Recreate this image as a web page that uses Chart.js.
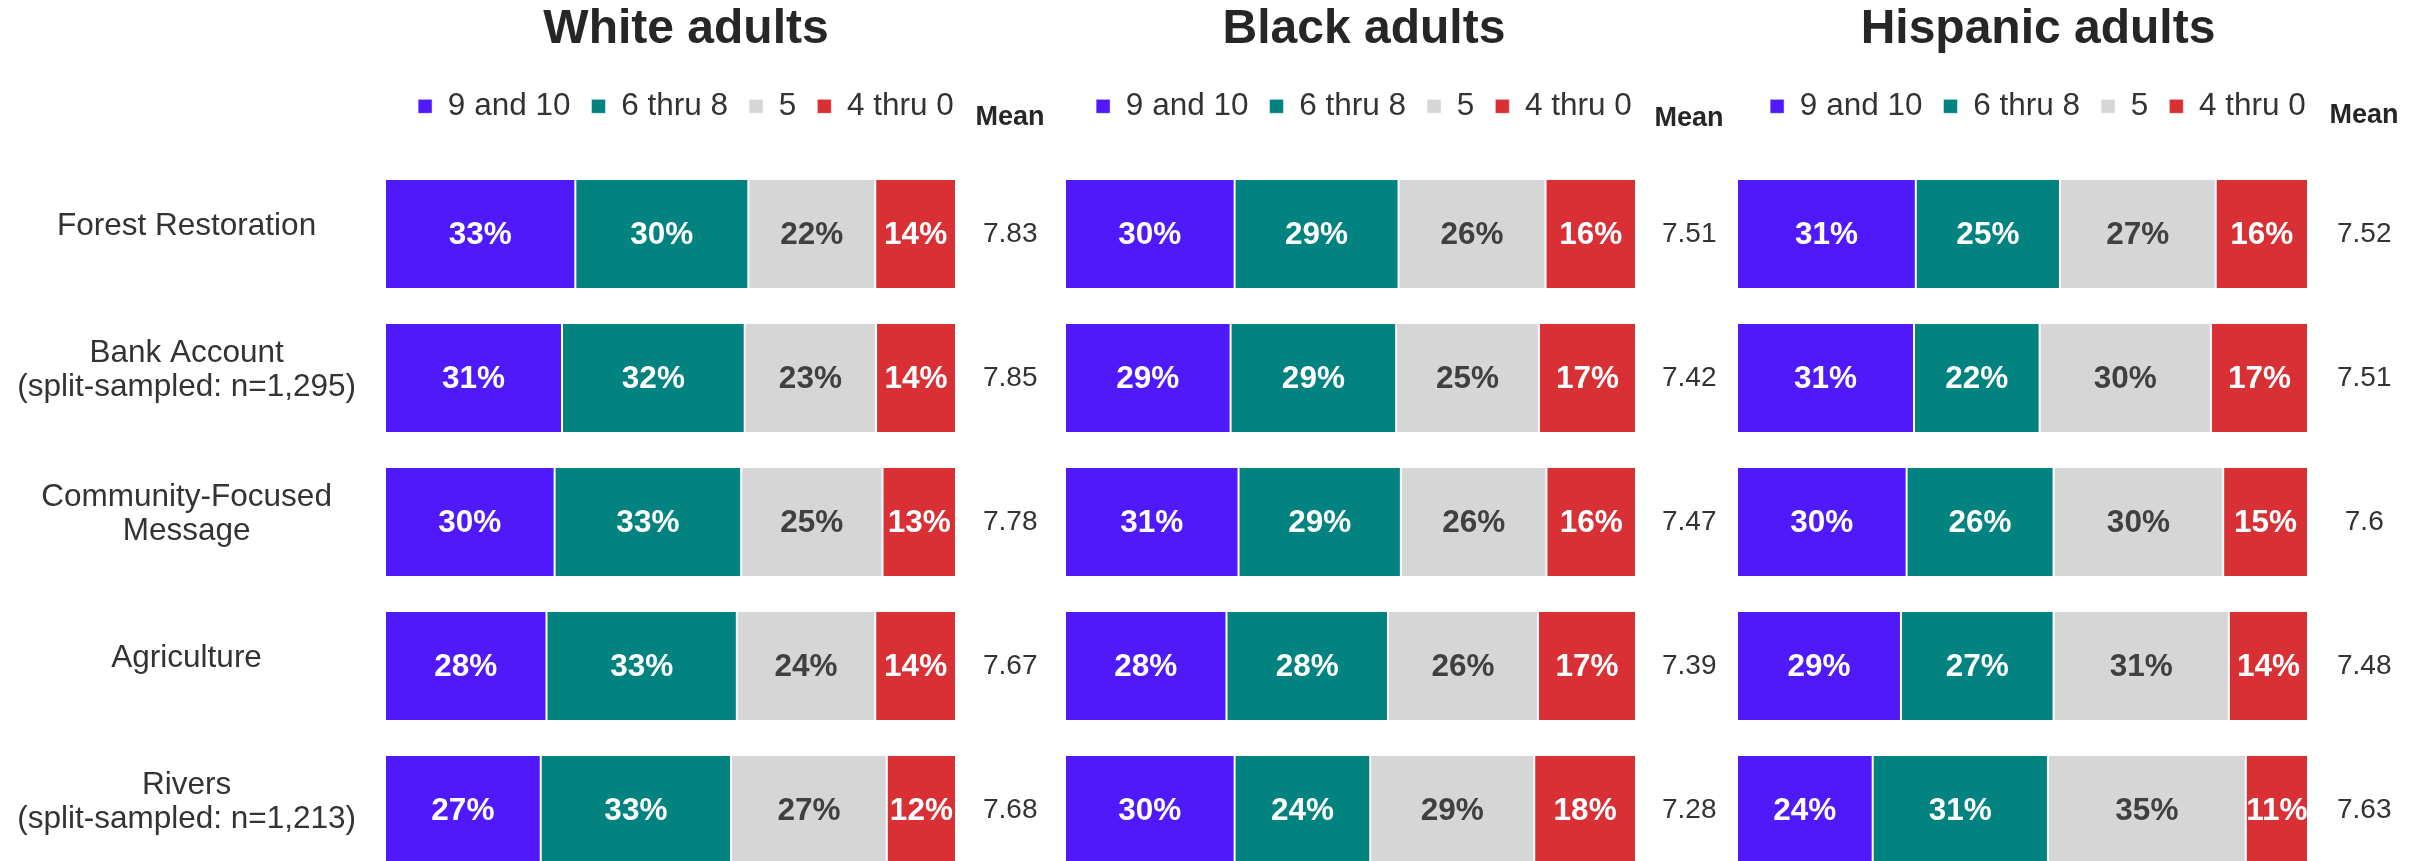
<!DOCTYPE html>
<html>
<head>
<meta charset="utf-8">
<script src="https://cdn.jsdelivr.net/npm/chart.js@4.4.1/dist/chart.umd.min.js"></script>
<style>
  html, body { margin: 0; padding: 0; background: #ffffff; overflow: hidden; }
  #wrap { position: relative; width: 2417px; height: 861px; }
  #wrap canvas { position: absolute; left: 0; top: 0; }
</style>
</head>
<body>
<div id="wrap">
  <canvas id="c1" width="2417" height="861"></canvas>
  <canvas id="c2" width="2417" height="861"></canvas>
  <canvas id="c3" width="2417" height="861"></canvas>
</div>
<script>
// ---------------- DATA ----------------
const categories = [
  ['Forest Restoration'],
  ['Bank Account', '(split-sampled: n=1,295)'],
  ['Community-Focused', 'Message'],
  ['Agriculture'],
  ['Rivers', '(split-sampled: n=1,213)']
];
const seriesNames = ['9 and 10', '6 thru 8', '5', '4 thru 0'];
const panelTitles = ['White adults', 'Black adults', 'Hispanic adults'];
const meanHeaderText = 'Mean';

const white9to10 = [33, 31, 30, 28, 27];
const white6to8  = [30, 32, 33, 33, 33];
const white5     = [22, 23, 25, 24, 27];
const white4to0  = [14, 14, 13, 14, 12];
const whiteMean  = [7.83, 7.85, 7.78, 7.67, 7.68];

const black9to10 = [30, 29, 31, 28, 30];
const black6to8  = [29, 29, 29, 28, 24];
const black5     = [26, 25, 26, 26, 29];
const black4to0  = [16, 17, 16, 17, 18];
const blackMean  = [7.51, 7.42, 7.47, 7.39, 7.28];

const hisp9to10 = [31, 31, 30, 29, 24];
const hisp6to8  = [25, 22, 26, 27, 31];
const hisp5     = [27, 30, 30, 31, 35];
const hisp4to0  = [16, 17, 15, 14, 11];
const hispMean  = [7.52, 7.51, 7.6, 7.48, 7.63];

// ---------------- STYLE ----------------
const FONT = '"Liberation Sans", Arial, Helvetica, sans-serif';
const seriesColors = ['#5019F9', '#028380', '#D6D6D6', '#D93036'];
const labelColors  = ['#ffffff', '#ffffff', '#404040', '#ffffff'];

Chart.defaults.font.family = FONT;
Chart.defaults.color = '#333333';

const barLabels = {
  id: 'barLabels',
  afterDatasetsDraw(chart) {
    const ctx = chart.ctx;
    ctx.save();
    ctx.font = 'bold 31.5px ' + FONT;
    ctx.textAlign = 'center';
    ctx.textBaseline = 'middle';
    chart.data.datasets.forEach((ds, di) => {
      const meta = chart.getDatasetMeta(di);
      meta.data.forEach((el, i) => {
        const p = el.getProps(['x', 'y', 'base'], true);
        ctx.fillStyle = ds.labelColor;
        ctx.fillText(ds.shownValues[i] + '%', (p.x + p.base) / 2, p.y + 1);
      });
    });
    ctx.restore();
  }
};

const meanHeader = {
  id: 'meanHeader',
  afterDraw(chart, args, opts) {
    const ctx = chart.ctx;
    ctx.save();
    ctx.font = 'bold 27px ' + FONT;
    ctx.fillStyle = '#262626';
    ctx.textAlign = 'center';
    ctx.textBaseline = 'middle';
    ctx.fillText(opts.text, chart.chartArea.right + opts.dx, opts.y);
    ctx.restore();
  }
};

function makePanel(id, title, series, means, geo) {
  const totals = categories.map((_, i) => series.reduce((s, arr) => s + arr[i], 0));
  const datasets = series.map((arr, k) => ({
    label: seriesNames[k],
    data: arr.map((v, i) => v / totals[i] * 100),
    shownValues: arr,
    labelColor: labelColors[k],
    backgroundColor: seriesColors[k],
    borderColor: '#ffffff',
    borderWidth: {left: 1, right: 1, top: 0, bottom: 0},
    borderSkipped: false,
    barPercentage: 0.75,
    categoryPercentage: 1,
    clip: false
  }));

  return new Chart(document.getElementById(id), {
    type: 'bar',
    data: { labels: categories, datasets },
    plugins: [barLabels, meanHeader],
    options: {
      indexAxis: 'y',
      responsive: false,
      devicePixelRatio: 1,
      animation: false,
      events: [],
      layout: { padding: { left: geo.padLeft, right: geo.padRight, top: 0, bottom: 51 } },
      scales: {
        x: {
          stacked: true, min: 0, max: 100, position: 'top',
          grid: { display: false, drawTicks: false },
          border: { display: false },
          ticks: { display: false },
          afterFit(s) { s.height = geo.gapTop; s.paddingLeft = 0; s.paddingRight = 0; }
        },
        y: {
          stacked: true, offset: false,
          display: true,
          grid: { display: false, drawTicks: false },
          border: { display: false },
          ticks: {
            display: geo.showCategories,
            padding: 29, crossAlign: 'center', autoSkip: false, color: '#333333',
            labelOffset: -8,
            font: { size: 31.5, lineHeight: 1.08 }
          },
          afterFit(s) { s.width = geo.catWidth; s.paddingTop = 0; s.paddingBottom = 0; }
        },
        yMean: {
          type: 'category', axis: 'y', position: 'right', offset: false,
          labels: means.map(String),
          grid: { display: false, drawTicks: false },
          border: { display: false },
          ticks: {
            padding: geo.meanPad, crossAlign: 'center', autoSkip: false, color: '#333333',
            font: { size: 28 }
          },
          afterFit(s) { s.width = geo.meanWidth; s.paddingTop = 0; s.paddingBottom = 0; }
        }
      },
      plugins: {
        title: {
          display: true, text: title, color: '#262626',
          font: { size: 48, weight: 'bold' },
          padding: { top: 1, bottom: 11 }
        },
        legend: {
          display: true, position: 'top',
          labels: {
            boxWidth: 14, boxHeight: 14, padding: 21, color: '#333333',
            font: { size: 31.5 }
          }
        },
        tooltip: { enabled: false },
        meanHeader: { text: meanHeaderText, dx: geo.meanDx, y: geo.meanY }
      }
    }
  });
}

makePanel('c1', panelTitles[0], [white9to10, white6to8, white5, white4to0], whiteMean,
  { padLeft: 15, padRight: 1060, showCategories: true, catWidth: 370, meanWidth: 401, meanPad: 27, gapTop: 102, meanDx: 54, meanY: 118 });
makePanel('c2', panelTitles[1], [black9to10, black6to8, black5, black4to0], blackMean,
  { padLeft: 1002, padRight: 691, showCategories: false, catWidth: 63, meanWidth: 90, meanPad: 26, gapTop: 102, meanDx: 53, meanY: 119 });
makePanel('c3', panelTitles[2], [hisp9to10, hisp6to8, hisp5, hisp4to0], hispMean,
  { padLeft: 1678, padRight: 19, showCategories: false, catWidth: 59, meanWidth: 90, meanPad: 29, gapTop: 102, meanDx: 56, meanY: 116 });
</script>
</body>
</html>
